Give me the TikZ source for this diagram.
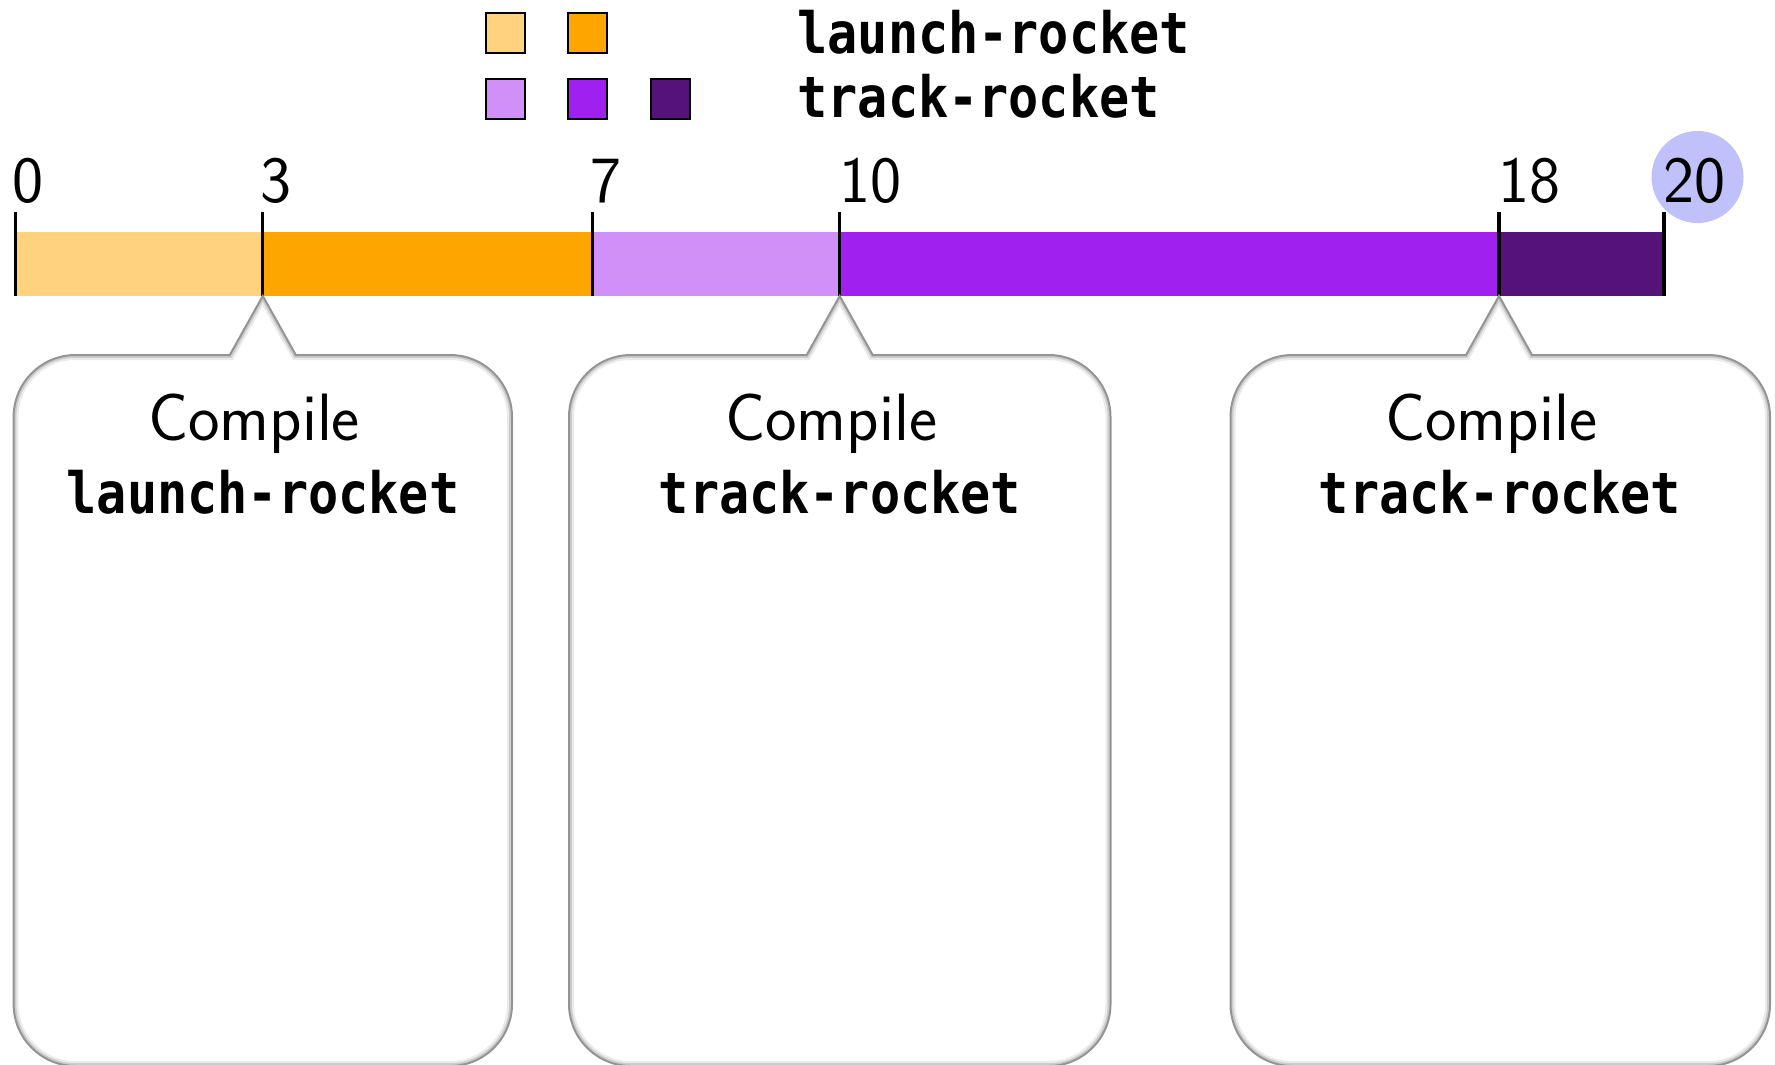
\documentclass[tikz,border=0pt]{standalone}
\usepackage{fontspec}
\newfontfamily\monob[FakeStretch=0.88]{DejaVu Sans Mono}
\definecolor{lorange}{RGB}{255,210,128}
\definecolor{dorange}{RGB}{255,165,0}
\definecolor{lpurple}{RGB}{208,144,248}
\definecolor{mpurple}{RGB}{160,32,240}
\definecolor{dpurple}{RGB}{85,18,120}
\definecolor{hilite}{RGB}{192,192,250}
\newcommand\calloutpath[4]{({#3-33},-355) -- ({#1+62},-355) arc[start angle=90,end angle=180,radius=62] -- (#1,-1004) arc[start angle=180,end angle=270,radius=62] -- ({#2-62},-1066) arc[start angle=270,end angle=360,radius=62] -- (#2,-417) arc[start angle=0,end angle=90,radius=62] -- ({#3+33},-355) -- (#4) -- cycle}
\newcommand\drawcallout[4]{%
  \begin{scope}
    \clip \calloutpath{#1}{#2}{#3}{#4};
    \draw[black!8, line width=5pt] \calloutpath{#1}{#2}{#3}{#4};
    \draw[black!20, line width=2.8pt] \calloutpath{#1}{#2}{#3}{#4};
  \end{scope}
  \draw[black!42, line width=1pt, line join=miter] \calloutpath{#1}{#2}{#3}{#4};}
\begin{document}
\begin{tikzpicture}[x=0.5pt,y=0.5pt,
  tickline/.style={line width=1.6pt, black},
  numlabel/.style={inner sep=0, anchor=base west, font=\sffamily\fontsize{33}{38}\selectfont},
  legbox/.style={draw=black, line width=1pt, minimum width=19.5pt, minimum height=20pt, inner sep=0},
  monotext/.style={inner sep=0, font=\monob\bfseries\fontsize{28.5}{34}\selectfont},
  captext/.style={inner sep=0, anchor=base, font=\sffamily\fontsize{33.5}{38}\selectfont}
]
\clip (0,0) rectangle (1775,-1064);

% legend
\node[legbox, fill=lorange] (lg1) at (505,-33.5) {};
\node[legbox, fill=dorange] (lg2) at (587,-33.5) {};
\node[legbox, fill=lpurple] (lg3) at (505,-99) {};
\node[legbox, fill=mpurple] (lg4) at (587,-99) {};
\node[legbox, fill=dpurple] (lg5) at (670.5,-99) {};
\node[monotext, anchor=base west] (lt1) at (797,-54) {launch-rocket};
\node[monotext, anchor=base west] (lt2) at (797,-118) {track-rocket};

% tick coordinates
\coordinate (t0) at (15.5,-212);  \coordinate (b0) at (15.5,-296);
\coordinate (t3) at (262.8,-212); \coordinate (b3) at (262.8,-296);
\coordinate (t7) at (592.4,-212); \coordinate (b7) at (592.4,-296);
\coordinate (t10) at (839.7,-212); \coordinate (b10) at (839.7,-296);
\coordinate (t18) at (1499,-212); \coordinate (b18) at (1499,-296);
\coordinate (t20) at (1664,-212); \coordinate (b20) at (1664,-296);

% highlight behind 20
\node[circle, fill=hilite, minimum size=46pt, inner sep=0] (hl) at (1697.5,-177) {};

% number labels
\node[numlabel] (n0) at (12.5,-203) {0};
\node[numlabel] (n3) at (260.5,-203) {3};
\node[numlabel] (n7) at (590.5,-203) {7};
\node[numlabel] (n10) at (839,-203) {10};
\node[numlabel] (n18) at (1498,-203) {18};
\node[numlabel] (n20) at (1663,-203) {20};

% bar
\fill[lorange] (15.5,-232) rectangle (262.8,-296);
\fill[dorange] (262.8,-232) rectangle (592.4,-296);
\fill[lpurple] (592.4,-232) rectangle (839.7,-296);
\fill[mpurple] (839.7,-232) rectangle (1499,-296);
\fill[dpurple] (1499,-232) rectangle (1664,-296);
\foreach \i in {0,3,7,10,18,20} {\draw[tickline] (t\i) -- (b\i);}

% callouts
\drawcallout{13.6}{512}{262.8}{b3}
\drawcallout{569}{1110.5}{839.7}{b10}
\drawcallout{1230.5}{1770}{1499}{b18}

\node[captext] (c1a) at (254,-440) {Compile};
\node[monotext, anchor=base] (c1b) at (263,-513) {launch-rocket};
\node[captext] (c2a) at (831,-440) {Compile};
\node[monotext, anchor=base] (c2b) at (840,-513) {track-rocket};
\node[captext] (c3a) at (1491,-440) {Compile};
\node[monotext, anchor=base] (c3b) at (1500,-513) {track-rocket};
\end{tikzpicture}
\end{document}
